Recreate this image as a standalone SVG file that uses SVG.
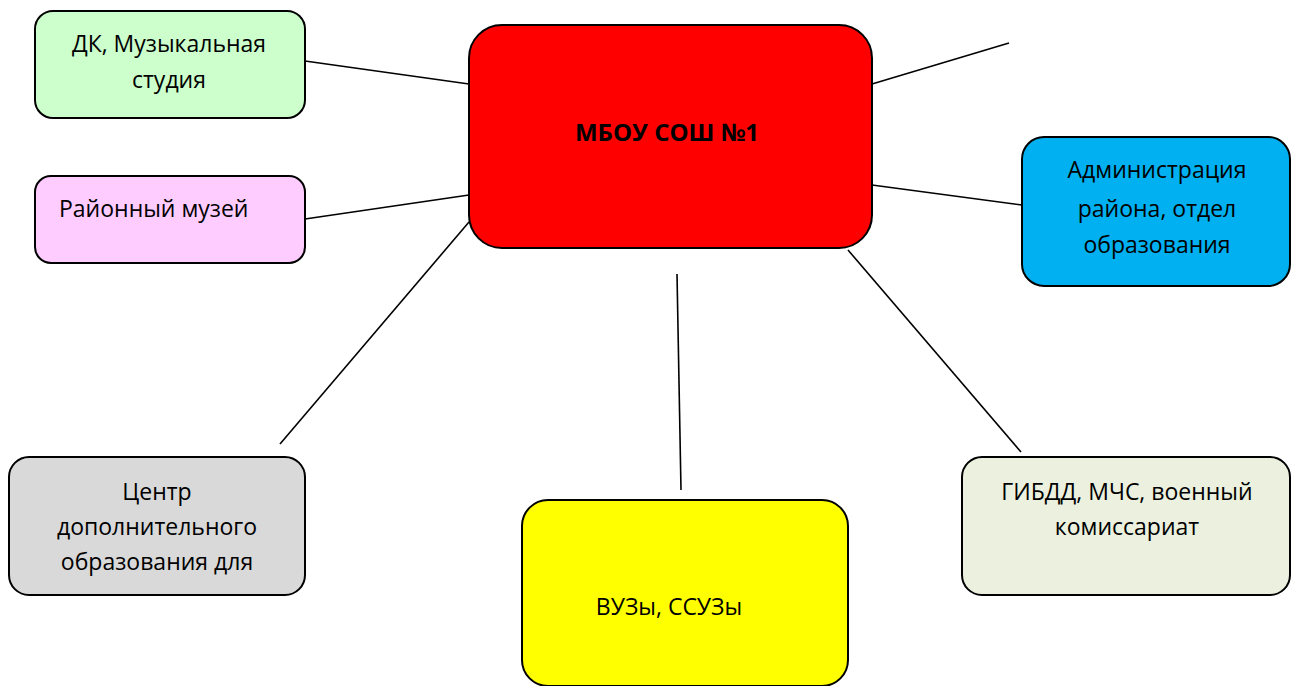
<svg xmlns="http://www.w3.org/2000/svg" width="1291" height="686" viewBox="0 0 1291 686">
<style>
.box{stroke:#000;stroke-width:2}
.t{font-family:"Open Sans","Liberation Sans",sans-serif;font-size:23px;fill:#000;text-anchor:middle}
.b{font-weight:bold;font-size:24px}
.c{stroke:#000;stroke-width:1.6;fill:none}
</style>
<rect width="1291" height="686" fill="#fff"/>
<g id="connectors">
<line class="c" x1="305" y1="61" x2="469" y2="84"/>
<line class="c" x1="305" y1="219" x2="469" y2="195"/>
<line class="c" x1="469" y1="222" x2="280" y2="444"/>
<line class="c" x1="677" y1="274" x2="681" y2="490"/>
<line class="c" x1="872" y1="84" x2="1009" y2="43"/>
<line class="c" x1="872" y1="185" x2="1022" y2="205"/>
<line class="c" x1="848" y1="250" x2="1021" y2="452"/>
</g>
<g id="dk">
<rect class="box" x="35" y="11" width="270" height="107" rx="18" fill="#ccffcc"/>
<text class="t" x="169" y="52">ДК, Музыкальная</text>
<text class="t" x="169" y="88">студия</text>
</g>
<g id="museum">
<rect class="box" x="35" y="176" width="270" height="87" rx="16" fill="#ffccff"/>
<text class="t" x="59" y="217" style="text-anchor:start">Районный музей</text>
</g>
<g id="school">
<rect class="box" x="469" y="25" width="403" height="223" rx="33" fill="#ff0000"/>
<text class="t b" x="667" y="141">МБОУ СОШ №1</text>
</g>
<g id="admin">
<rect class="box" x="1022" y="137" width="268" height="149" rx="22" fill="#00b0f0"/>
<text class="t" x="1157" y="178">Администрация</text>
<text class="t" x="1157" y="217">района, отдел</text>
<text class="t" x="1157" y="253">образования</text>
</g>
<g id="center">
<rect class="box" x="9" y="457" width="296" height="138" rx="20" fill="#d9d9d9"/>
<text class="t" x="157" y="500">Центр</text>
<text class="t" x="157" y="535">дополнительного</text>
<text class="t" x="157" y="570">образования для</text>
</g>
<g id="vuz">
<rect class="box" x="522" y="500" width="326" height="186" rx="26" fill="#ffff00"/>
<text class="t" x="669" y="615">ВУЗы, ССУЗы</text>
</g>
<g id="gibdd">
<rect class="box" x="962" y="457" width="328" height="138" rx="20" fill="#ebf1de"/>
<text class="t" x="1127" y="500">ГИБДД, МЧС, военный</text>
<text class="t" x="1127" y="535">комиссариат</text>
</g>
</svg>
